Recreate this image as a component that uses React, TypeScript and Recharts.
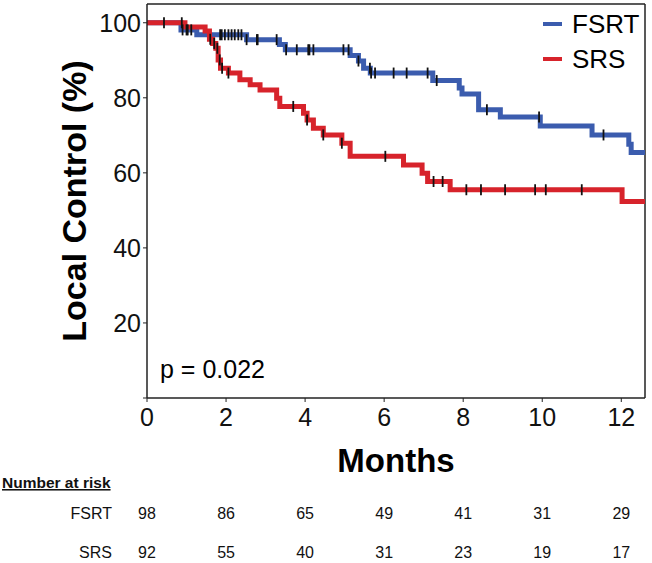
import React from 'react';
import { ComposedChart, Line, Scatter, XAxis, YAxis, ReferenceLine, Label } from 'recharts';

const MONTH_TICKS = [0, 2, 4, 6, 8, 10, 12];
const PCT_TICKS = [0, 20, 40, 60, 80, 100];

const fsrtAtRisk = [98, 86, 65, 49, 41, 31, 29];
const srsAtRisk = [92, 55, 40, 31, 23, 19, 17];

// Kaplan-Meier steps (months, % local control)
const fsrtTime = [0, 0.86, 1.26, 2.52, 3.35, 3.5, 5.14, 5.35, 5.48, 5.65, 7.23, 7.9, 7.97, 8.39, 8.94, 9.95, 11.26, 12.19, 12.25, 12.6];
const fsrtSurv = [100, 98.1, 96.8, 95.5, 94.2, 92.8, 91.3, 89.8, 87.9, 86.6, 84.6, 82.6, 81.0, 76.8, 74.9, 72.5, 70.1, 67.6, 65.4, 65.4];

const srsTime = [0, 0.96, 1.47, 1.58, 1.66, 1.74, 1.8, 1.86, 2.06, 2.35, 2.61, 2.86, 3.28, 3.36, 3.96, 4.05, 4.21, 4.46, 4.93, 5.14, 6.49, 6.96, 7.1, 7.67, 12.02, 12.6];
const srsSurv = [100, 98.9, 97.8, 95.6, 94.5, 93.2, 90.1, 87.9, 86.6, 84.8, 83.5, 82.1, 79.9, 77.7, 75.9, 74.1, 71.9, 70.1, 67.9, 64.4, 62.1, 59.9, 57.7, 55.5, 52.4, 52.4];

// censored observations (months)
const fsrtCensor = [0.9, 1.0, 1.03, 1.12, 1.85, 1.89, 1.97, 2.06, 2.14, 2.22, 2.31, 2.39, 2.52, 2.78, 2.8, 3.28, 3.52, 3.79, 4.08, 4.11, 4.21, 4.97, 5.1, 5.35, 5.64, 5.67, 5.77, 6.24, 6.57, 7.1, 7.33, 8.6, 9.92, 11.55];
const srsCensor = [0.43, 0.88, 1.6, 1.7, 1.78, 1.84, 1.9, 2.06, 3.7, 4.05, 4.46, 4.93, 6.03, 7.25, 7.48, 8.08, 8.45, 9.06, 9.82, 10.09, 11.0];

const BLUE = '#3b5cae';
const RED = '#d7232b';
const FONT = '"Liberation Sans", Arial, sans-serif';

function toSteps(times: number[], surv: number[]) {
  return times.map((t, i) => ({ t, s: surv[i] }));
}

// value of the step function at time t
function stepAt(times: number[], surv: number[], t: number) {
  let v = surv[0];
  for (let i = 0; i < times.length; i++) {
    if (times[i] <= t) v = surv[i];
  }
  return v;
}

function toCensor(censor: number[], times: number[], surv: number[]) {
  return censor.map((t) => ({ t, s: stepAt(times, surv, t) }));
}

const fsrtData = toSteps(fsrtTime, fsrtSurv);
const srsData = toSteps(srsTime, srsSurv);
const fsrtMarks = toCensor(fsrtCensor, fsrtTime, fsrtSurv);
const srsMarks = toCensor(srsCensor, srsTime, srsSurv);

function CensorMark(props: any) {
  const { cx, cy } = props;
  return <line x1={cx} x2={cx} y1={cy - 5.5} y2={cy + 5.5} stroke="#111" strokeWidth={1.8} />;
}

function MonthTick(props: any) {
  const { x, y, payload, index } = props;
  return (
    <g fontFamily={FONT} fill="#111">
      <text x={x} y={y} dy={22} textAnchor="middle" fontSize={25}>
        {payload.value}
      </text>
      <text x={x} y={y} dy={115} textAnchor="middle" fontSize={16}>
        {fsrtAtRisk[index]}
      </text>
      <text x={x} y={y} dy={154} textAnchor="middle" fontSize={16}>
        {srsAtRisk[index]}
      </text>
    </g>
  );
}

function PctTick(props: any) {
  const { x, y, payload } = props;
  if (payload.value === 0) return null;
  return (
    <text x={x} y={y} dy="0.36em" textAnchor="end" fontSize={25} fontFamily={FONT} fill="#111">
      {payload.value}
    </text>
  );
}

export default function App() {
  return (
    <div style={{ position: 'absolute', left: 0, top: 0, width: 652, height: 563, background: '#fff' }}>
      <ComposedChart width={652} height={563} margin={{ top: 4, right: 7, bottom: 0, left: 0 }}>
        <XAxis
          type="number"
          dataKey="t"
          domain={[0, 12.6]}
          ticks={MONTH_TICKS}
          allowDataOverflow
          height={165}
          tickSize={4}
          tickMargin={2}
          axisLine={{ stroke: '#222', strokeWidth: 1.5 }}
          tickLine={{ stroke: '#222' }}
          tick={<MonthTick />}
        >
          <Label
            content={(p: any) => (
              <text
                x={p.viewBox.x + p.viewBox.width / 2}
                y={472}
                textAnchor="middle"
                fontSize={33}
                fontWeight="bold"
                fontFamily={FONT}
                fill="#000"
              >
                Months
              </text>
            )}
          />
        </XAxis>
        <YAxis
          type="number"
          domain={[0, 105]}
          ticks={PCT_TICKS}
          allowDataOverflow
          width={147}
          tickSize={4}
          tickMargin={2}
          axisLine={{ stroke: '#222', strokeWidth: 1.5 }}
          tickLine={{ stroke: '#222' }}
          tick={<PctTick />}
        >
          <Label
            content={(p: any) => {
              const cy = p.viewBox.y + p.viewBox.height / 2;
              return (
                <text
                  x={74}
                  y={cy}
                  transform={`rotate(-90 74 ${cy})`}
                  textAnchor="middle"
                  dominantBaseline="central"
                  fontSize={34}
                  fontWeight="bold"
                  fontFamily={FONT}
                  fill="#000"
                >
                  Local Control (%)
                </text>
              );
            }}
          />
        </YAxis>
        <ReferenceLine y={105} stroke="#222" strokeWidth={1.5} />
        <ReferenceLine x={12.6} stroke="#222" strokeWidth={1.5} />

        <Line
          data={fsrtData}
          dataKey="s"
          type="stepAfter"
          stroke={BLUE}
          strokeWidth={5}
          dot={false}
          activeDot={false}
          isAnimationActive={false}
        />
        <Line
          data={srsData}
          dataKey="s"
          type="stepAfter"
          stroke={RED}
          strokeWidth={5}
          dot={false}
          activeDot={false}
          isAnimationActive={false}
        />
        <Scatter data={fsrtMarks} dataKey="s" shape={<CensorMark />} isAnimationActive={false} />
        <Scatter data={srsMarks} dataKey="s" shape={<CensorMark />} isAnimationActive={false} />
      </ComposedChart>

      <svg
        width={652}
        height={563}
        style={{ position: 'absolute', left: 0, top: 0, pointerEvents: 'none' }}
        fontFamily={FONT}
      >
        <line x1={543} x2={562} y1={24} y2={24} stroke={BLUE} strokeWidth={4} />
        <text x={572} y={33} fontSize={26} fill="#000">FSRT</text>
        <line x1={543} x2={562} y1={59} y2={59} stroke={RED} strokeWidth={4} />
        <text x={572} y={68} fontSize={26} fill="#000">SRS</text>

        <text x={160} y={378} fontSize={25} fill="#000">p = 0.022</text>

        <text x={2} y={488} fontSize={15.5} fontWeight="bold" fill="#111" textDecoration="underline">
          Number at risk
        </text>
        <text x={112} y={519} fontSize={16} textAnchor="end" fill="#111">FSRT</text>
        <text x={112} y={558} fontSize={16} textAnchor="end" fill="#111">SRS</text>
      </svg>
    </div>
  );
}
